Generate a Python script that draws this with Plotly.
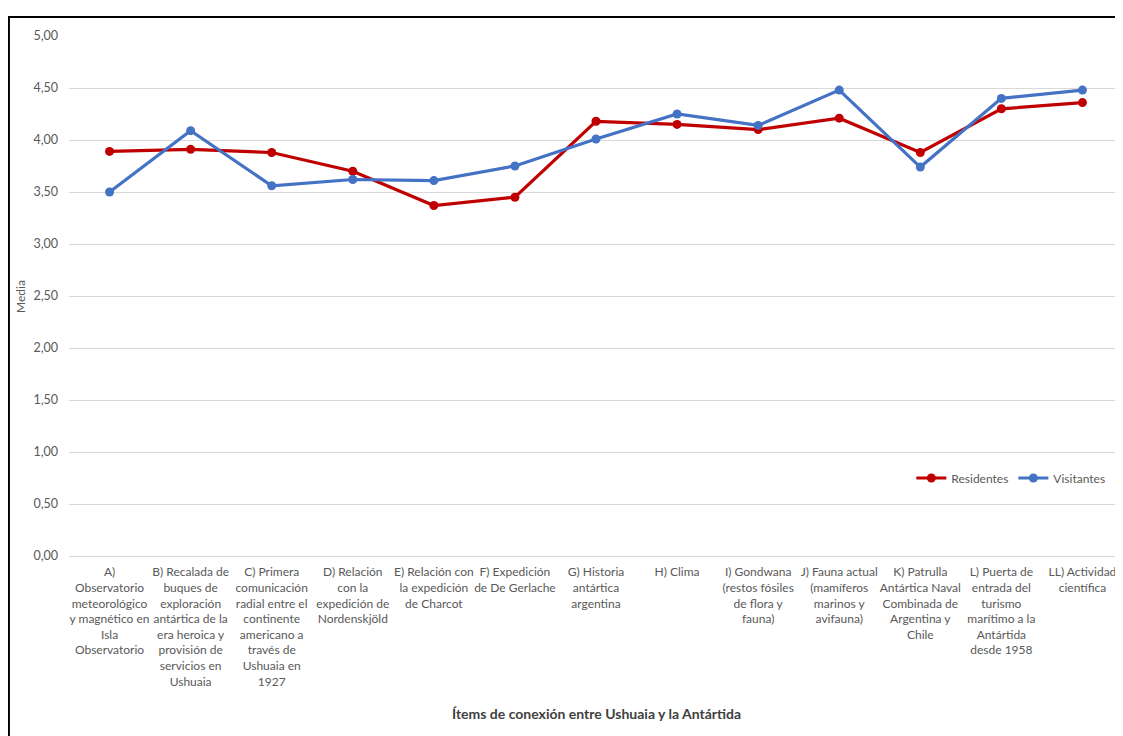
"""Medias por ítem de conexión Ushuaia - Antártida"""
import plotly.graph_objects as go

items = ["A", "B", "C", "D", "E", "F", "G", "H", "I", "J", "K", "L", "LL"]
item_labels = [
    "A)<br>Observatorio<br>meteorológico<br>y magnético en<br>Isla<br>Observatorio",
    "B) Recalada de<br>buques de<br>exploración<br>antártica de la<br>era heroica y<br>provisión de<br>servicios en<br>Ushuaia",
    "C) Primera<br>comunicación<br>radial entre el<br>continente<br>americano a<br>través de<br>Ushuaia en<br>1927",
    "D) Relación<br>con la<br>expedición de<br>Nordenskjöld",
    "E) Relación con<br>la expedición<br>de Charcot",
    "F) Expedición<br>de De Gerlache",
    "G) Historia<br>antártica<br>argentina",
    "H) Clima",
    "I) Gondwana<br>(restos fósiles<br>de flora y<br>fauna)",
    "J) Fauna actual<br>(mamíferos<br>marinos y<br>avifauna)",
    "K) Patrulla<br>Antártica Naval<br>Combinada de<br>Argentina y<br>Chile",
    "L) Puerta de<br>entrada del<br>turismo<br>marítimo a la<br>Antártida<br>desde 1958",
    "LL) Actividad<br>científica",
]
residentes = [3.89, 3.91, 3.88, 3.70, 3.37, 3.45, 4.18, 4.15, 4.10, 4.21, 3.88, 4.30, 4.36]
visitantes = [3.50, 4.09, 3.56, 3.62, 3.61, 3.75, 4.01, 4.25, 4.14, 4.48, 3.74, 4.40, 4.48]
y_ticks = [0, 0.5, 1, 1.5, 2, 2.5, 3, 3.5, 4, 4.5, 5]

GRAY = "#595959"
FONT = "Lato, 'Open Sans', sans-serif"

fig = go.Figure()
fig.add_trace(go.Scatter(
    x=items, y=residentes, name="Residentes", mode="lines+markers",
    line=dict(color="#C00000", width=3.2),
    marker=dict(size=9, color="#C00000"),
))
fig.add_trace(go.Scatter(
    x=items, y=visitantes, name="Visitantes", mode="lines+markers",
    line=dict(color="#4472C4", width=3.2),
    marker=dict(size=9, color="#4472C4"),
))

# the page body adds an 8px margin, so the figure is drawn 8px smaller
fig.update_layout(
    width=1115, height=728,
    margin=dict(l=61, r=0, t=28, b=180),
    paper_bgcolor="white", plot_bgcolor="white",
    font=dict(family=FONT, size=12, color=GRAY),
    showlegend=True,
    legend=dict(
        orientation="h", x=0.988, xanchor="right", y=0.15, yanchor="middle",
        bgcolor="rgba(0,0,0,0)", font=dict(size=12, color=GRAY),
        itemwidth=30, tracegroupgap=0,
    ),
    xaxis=dict(
        tickvals=items, ticktext=item_labels, showgrid=False,
        showline=True, linecolor="#D9D9D9", ticks="",
        tickfont=dict(size=12, color=GRAY), tickangle=0,
        ticklabelstandoff=5,
        range=[-0.5, len(items) - 0.5],
    ),
    yaxis=dict(
        range=[0, 5], tickvals=y_ticks, tickformat=".2f",
        showgrid=True, gridcolor="#D9D9D9", gridwidth=1,
        zeroline=False, ticks="", tickfont=dict(size=12.5, color=GRAY),
        ticklabelstandoff=10,
    ),
    separators=",.",
    annotations=[
        dict(text="Media", textangle=-90, xref="paper", yref="paper",
             x=-0.0465, y=0.5, xanchor="center", yanchor="middle",
             showarrow=False, font=dict(size=12, color=GRAY)),
        dict(text="<b>Ítems de conexión entre Ushuaia y la Antártida</b>",
             xref="paper", yref="paper", x=0.5, y=-0.302,
             xanchor="center", yanchor="middle",
             showarrow=False, font=dict(size=14, color="#404040")),
    ],
    shapes=[
        dict(type="rect", xref="paper", yref="paper",
             x0=-0.057, x1=1.2, y0=-1, y1=1.0365,
             line=dict(color="black", width=2), layer="above"),
    ],
)

fig.write_html("out.html")
